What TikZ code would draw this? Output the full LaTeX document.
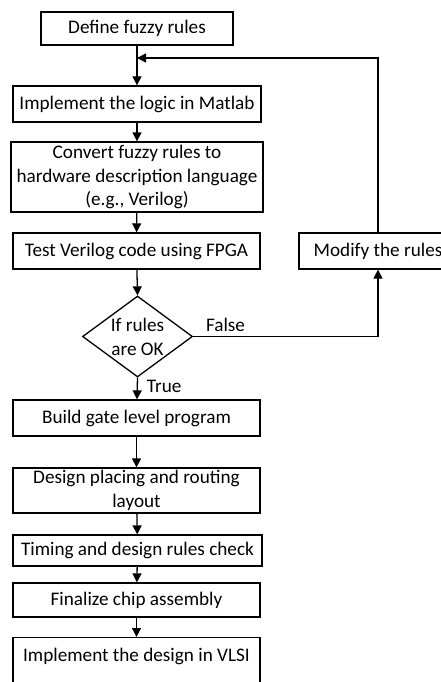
\documentclass[tikz,border=0pt]{standalone}
\usepackage{fontspec}
\setmainfont{Carlito}
\usetikzlibrary{arrows.meta,shapes.geometric}
\begin{document}
\begin{tikzpicture}[x=1pt,y=-1pt,
  txt/.style={font=\fontsize{19.2}{23.8}\selectfont},
  box/.style={draw, line width=1.3pt, rectangle, inner sep=0pt, align=center, txt},
  conn/.style={line width=1.3pt, -{Triangle[length=9pt,width=9pt]}},
  lbl/.style={txt, inner sep=0pt, align=center}]
\useasboundingbox (0,0) rectangle (441,682);
\clip (0,0) rectangle (441,682);
\node[box, minimum width=192pt, minimum height=33pt] (b1) at (137,28.5) {Define fuzzy rules};
\node[box, minimum width=248pt, minimum height=36pt] (b2) at (137,104) {Implement the logic in Matlab};
\node[box, minimum width=252pt, minimum height=70pt] (b3) at (137,177) {Convert fuzzy rules to\\hardware description language\\(e.g., Verilog)};
\node[box, minimum width=247pt, minimum height=36pt] (b4) at (136.5,251) {Test Verilog code using FPGA};
\node[box, minimum width=158pt, minimum height=36pt] (mod) at (378,251) {Modify the rules};
\node[draw, line width=1.3pt, shape=diamond, inner sep=0pt, minimum width=110pt, minimum height=81pt] (dia) at (137.5,336.5) {};
\node[lbl] (diat) at (137.5,337) {If rules\\are OK};
\node[box, minimum width=247pt, minimum height=36pt] (b5) at (136.5,418) {Build gate level program};
\node[box, minimum width=247pt, minimum height=45pt] (b6) at (136.5,490.5) {Design placing and routing\\layout};
\node[box, minimum width=249pt, minimum height=31pt] (b7) at (137.5,550.5) {Timing and design rules check};
\node[box, minimum width=247pt, minimum height=34pt] (b8) at (136.5,600) {Finalize chip assembly};
\node[box, minimum width=247pt, anchor=north, inner ysep=6pt, text height=18pt, text depth=40pt] (b9) at (136.5,637) {Implement the design in VLSI};
\coordinate (fb) at (137,58);
\draw[conn] (b1) -- (b2);
\draw[conn] (b2) -- (b3);
\draw[conn] (b3) -- (b4);
\draw[conn] (b4) -- (dia.north);
\draw[conn] (dia.south) -- (b5) node[lbl, pos=0.4, right=9pt] {True};
\draw[conn] (b5) -- (b6);
\draw[conn] (b6) -- (b7);
\draw[conn] (b7) -- (b8);
\draw[conn] (b8) -- (b9);
\draw[conn] (dia.east) -| (mod.south) node[lbl, pos=0.0876, above=4pt] {False};
\draw[conn] (mod.north) |- (fb);
\end{tikzpicture}
\end{document}
